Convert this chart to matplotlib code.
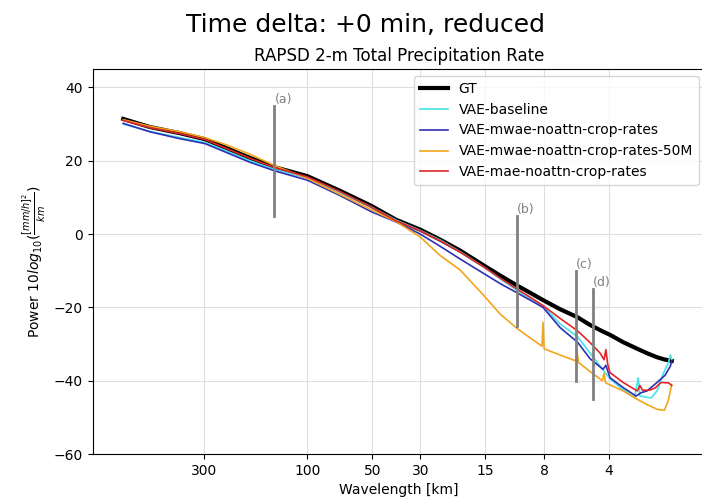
import matplotlib
matplotlib.use("Agg")
import matplotlib.pyplot as plt
from matplotlib.ticker import FixedLocator, NullLocator

# RAPSD curves (wavelength in km, power in dB)
wl_gt = [713, 537, 389, 299, 236, 185, 141, 100, 70.6, 50.2, 38.8, 30, 24.3, 19.6,
         15.2, 12.8, 10.7, 9.3, 8.1, 6.75, 5.6, 4.9, 4.27, 3.96, 3.44, 2.96, 2.67,
         2.4, 2.22, 2.05]
gt = [31.4, 29.2, 27.5, 25.9, 23.4, 20.8, 18.2, 15.8, 11.8, 7.6, 3.9, 1.2, -1.5, -4.5,
      -8.6, -11.3, -14.0, -16.0, -18.0, -20.5, -22.7, -24.8, -26.6, -27.5, -29.5,
      -31.3, -32.5, -33.6, -34.2, -34.6]

wl_base = [713, 537, 389, 299, 236, 185, 141, 100, 70.6, 50.2, 38.8, 30, 24.3, 19.6,
           15.2, 12.8, 10.7, 9.3, 8.1, 6.75, 5.6, 4.9, 4.27, 3.96, 3.44, 3.05, 2.93,
           2.88, 2.55, 2.4, 2.25, 2.12, 2.08, 2.05]
vae_base = [30.0, 28.0, 26.3, 25.0, 22.6, 20.0, 17.6, 15.3, 11.4, 7.3, 3.8, 1.0, -1.6,
            -4.8, -9.0, -12.2, -15.3, -17.5, -19.6, -24.5, -28.0, -32.5, -37.0, -39.5,
            -42.5, -44.6, -39.2, -44.2, -44.7, -42.8, -38.2, -35.0, -33.0, -34.2]

wl_mwae = [713, 537, 389, 299, 236, 185, 141, 100, 70.6, 50.2, 38.8, 30, 24.3, 19.6,
           15.2, 12.8, 10.7, 9.3, 8.1, 6.75, 5.6, 4.9, 4.27, 4.14, 3.96, 3.44, 3.0,
           2.85, 2.67, 2.4, 2.2, 2.08, 2.05]
vae_mwae = [30.2, 27.9, 26.0, 24.7, 22.2, 19.6, 17.2, 14.7, 10.5, 6.0, 3.3, 0.0, -3.3,
            -6.8, -10.8, -13.5, -16.0, -18.0, -20.0, -25.5, -29.5, -34.0, -36.9, -35.8,
            -39.2, -41.9, -44.2, -43.3, -42.8, -40.5, -38.5, -36.0, -34.6]

wl_50m = [713, 537, 389, 299, 236, 185, 141, 100, 70.6, 50.2, 38.8, 30, 24.3, 19.6,
          15.2, 12.8, 10.7, 9.3, 8.18, 8.09, 8.0, 6.75, 5.7, 5.62, 5.55, 4.9, 4.3,
          4.22, 4.15, 3.44, 2.96, 2.67, 2.4, 2.22, 2.13, 2.05]
vae_50m = [31.2, 29.4, 27.9, 26.3, 24.3, 21.8, 18.6, 15.2, 10.8, 6.5, 3.4, -0.8, -5.8,
           -9.8, -16.8, -21.8, -25.7, -28.3, -30.6, -24.1, -31.3, -33.0, -34.6, -32.3,
           -35.0, -37.5, -40.0, -38.0, -40.6, -42.8, -45.1, -46.5, -47.8, -48.1, -45.6,
           -41.0]

wl_mae = [713, 537, 389, 299, 236, 185, 141, 100, 70.6, 50.2, 38.8, 30, 24.3, 19.6,
          15.2, 12.8, 10.7, 9.3, 8.1, 6.75, 5.6, 4.9, 4.4, 4.22, 4.14, 4.06, 3.96, 3.44,
          2.96, 2.88, 2.8, 2.6, 2.45, 2.3, 2.12, 2.05]
vae_mae = [31.0, 29.0, 27.4, 25.8, 23.3, 20.7, 18.1, 15.6, 11.6, 7.3, 3.6, 0.9, -1.8,
           -4.9, -9.0, -12.0, -15.0, -17.2, -19.5, -23.0, -26.4, -29.6, -32.5, -34.3,
           -31.5, -35.5, -37.8, -40.5, -42.8, -41.3, -42.6, -42.6, -42.0, -40.5, -40.6,
           -41.3]

# marker lines: label, wavelength, bottom, top
marks = ["(a)", "(b)", "(c)", "(d)"]
mark_wl = [142, 10.7, 5.68, 4.75]
mark_lo = [5, -25, -40, -45]
mark_hi = [35, 5, -10, -15]

xticks = [300, 100, 50, 30, 15, 8, 4]

fig = plt.figure(figsize=(7.02, 4.97), dpi=100)
ax = fig.add_axes([0.132, 0.0865, 0.873, 0.7745])

ax.plot(wl_gt, gt, color="black", lw=3, label="GT")
ax.plot(wl_base, vae_base, color="#45e3e8", lw=1.2, label="VAE-baseline")
ax.plot(wl_mwae, vae_mwae, color="#2f2fb5", lw=1.2, label="VAE-mwae-noattn-crop-rates")
ax.plot(wl_50m, vae_50m, color="#f2a51c", lw=1.2, label="VAE-mwae-noattn-crop-rates-50M")
ax.plot(wl_mae, vae_mae, color="#e0262a", lw=1.2, label="VAE-mae-noattn-crop-rates")

for lab, w, lo, hi in zip(marks, mark_wl, mark_lo, mark_hi):
    ax.plot([w, w], [lo, hi], color="gray", lw=2)
    ax.text(w, hi, lab, color="gray", fontsize=9, ha="left", va="bottom")

ax.set_xscale("log")
ax.set_xlim(988, 1.43)
ax.set_ylim(-60, 45)
ax.xaxis.set_major_locator(FixedLocator(xticks))
ax.xaxis.set_minor_locator(NullLocator())
ax.set_xticklabels([str(t) for t in xticks])
ax.set_yticks([-60, -40, -20, 0, 20, 40])
ax.grid(True, color="#dedede", lw=0.8)

ax.set_xlabel("Wavelength [km]")
ax.set_ylabel(r"Power $10log_{10}(\frac{[mm/h]^2}{km})$")
ax.set_title("RAPSD 2-m Total Precipitation Rate", fontsize=12)
fig.suptitle("Time delta: +0 min, reduced", x=0.52, y=0.974, fontsize=18)
ax.legend(loc="upper right")

fig.savefig("out.png", dpi=100)
